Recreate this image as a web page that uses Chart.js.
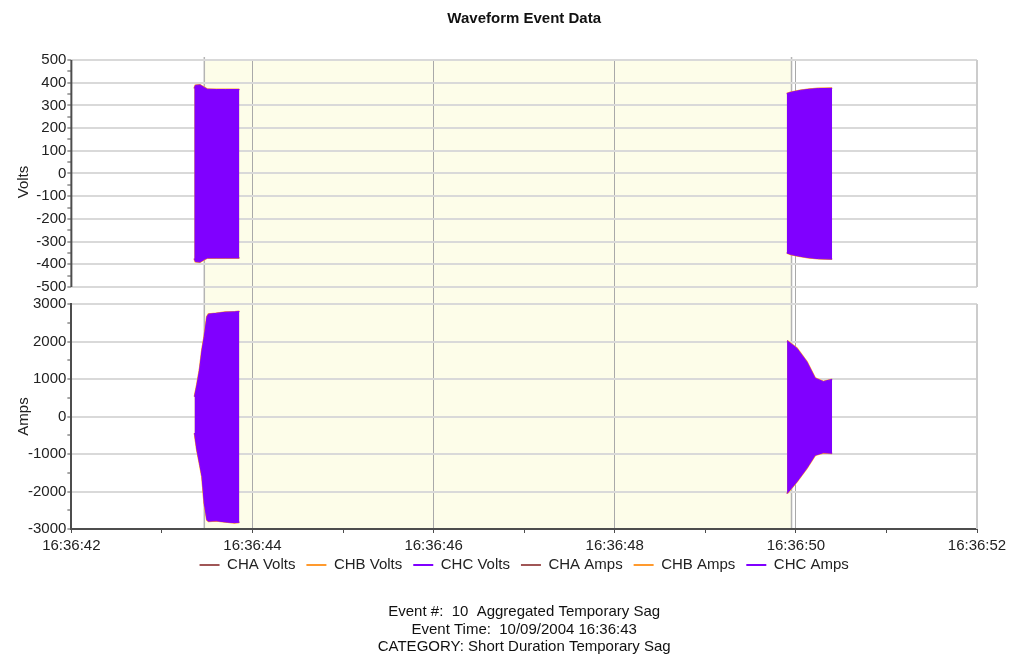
<!DOCTYPE html>
<html>
<head>
<meta charset="utf-8">
<script src="https://cdn.jsdelivr.net/npm/chart.js@4"></script>
<style>
  body { margin: 0; background: #fff; }
  #wrap { width: 1010px; height: 656px; }
</style>
</head>
<body>
<div id="wrap"><canvas id="chart"></canvas></div>
<script>
// seconds after 16:36:42
const tickLabels = ["16:36:42", "16:36:44", "16:36:46", "16:36:48", "16:36:50", "16:36:52"];
const eventStart = 1.468;
const eventEnd = 7.952;

// envelope of the voltage bursts (peak / trough)
const voltT1 = [1.358, 1.37, 1.42, 1.47, 1.50, 1.60, 1.70, 1.854];
const voltHi1 = [375, 388, 390, 378, 371, 370, 370, 370];
const voltLo1 = [-375, -388, -390, -378, -372, -372, -372, -372];
const voltT2 = [7.90, 7.95, 8.05, 8.15, 8.25, 8.40];
const voltHi2 = [352, 358, 366, 371, 374, 375];
const voltLo2 = [-350, -357, -365, -371, -375, -377];

// envelope of the current bursts
const ampT1 = [1.361, 1.387, 1.416, 1.443, 1.468, 1.498, 1.515, 1.60, 1.70, 1.80, 1.854];
const ampHi1 = [530, 840, 1240, 1770, 2130, 2660, 2730, 2750, 2780, 2790, 2800];
const ampLo1 = [-440, -890, -1250, -1600, -2310, -2760, -2790, -2780, -2810, -2830, -2820];
const ampT2 = [7.903, 8.010, 8.120, 8.212, 8.303, 8.400];
const ampHi2 = [2020, 1820, 1460, 1020, 930, 990];
const ampLo2 = [-2050, -1740, -1380, -1030, -965, -980];

const channels = ["CHA", "CHB", "CHC"];
const colors = { CHA: "#a05656", CHB: "#ff9a2e", CHC: "#8000ff" };
const drawOrder = { CHA: 2, CHB: 1, CHC: 0 };

function pts(t1, v1, t2, v2) {
  const a = t1.map((t, i) => ({ x: t, y: v1[i] }));
  const b = t2.map((t, i) => ({ x: t, y: v2[i] }));
  // null point breaks the line between the two bursts
  return a.concat([{ x: (t1[t1.length - 1] + t2[0]) / 2, y: null }], b);
}

function bandSets(unit, axis, hi, lo) {
  const out = [];
  channels.forEach(ch => {
    const base = {
      borderColor: colors[ch],
      backgroundColor: colors[ch],
      borderWidth: ch === "CHB" ? 2 : 1,
      pointRadius: 0,
      yAxisID: axis,
      order: drawOrder[ch],
      spanGaps: false
    };
    out.push({ ...base, label: ch + " " + unit, data: hi, fill: "+1" });
    out.push({ ...base, label: ch + " " + unit, data: lo, fill: false, lower: true });
  });
  return out;
}

const datasets = [
  ...bandSets("Volts", "yV", pts(voltT1, voltHi1, voltT2, voltHi2), pts(voltT1, voltLo1, voltT2, voltLo2)),
  ...bandSets("Amps", "yA", pts(ampT1, ampHi1, ampT2, ampHi2), pts(ampT1, ampLo1, ampT2, ampLo2))
];

const axisColor = "#4d4d4d";
const gridColor = "#d9d9d9";

const eventBand = {
  id: "eventBand",
  afterLayout(chart) {
    // pull the legend up closer to the time labels
    chart.legend.top -= 12.5;
    chart.legend.bottom -= 12.5;
  },
  beforeDraw(chart) {
    const { ctx, chartArea } = chart;
    const x = chart.scales.x;
    const x0 = x.getPixelForValue(eventStart);
    const x1 = x.getPixelForValue(eventEnd);
    ctx.save();
    ctx.fillStyle = "#fdfde9";
    ctx.fillRect(x0, chartArea.top, x1 - x0, chartArea.bottom - chartArea.top);
    ctx.strokeStyle = "#b4b4b4";
    ctx.lineWidth = 1.5;
    ctx.beginPath();
    [x0, x1].forEach(px => {
      ctx.moveTo(px, chartArea.top - 3);
      ctx.lineTo(px, chartArea.bottom);
    });
    ctx.stroke();
    ctx.restore();
  },
  beforeDatasetsDraw(chart) {
    const { ctx, chartArea } = chart;
    const yV = chart.scales.yV;
    const yA = chart.scales.yA;
    ctx.save();
    // right borders of both panels
    ctx.strokeStyle = "#cccccc";
    ctx.lineWidth = 2;
    ctx.beginPath();
    ctx.moveTo(chartArea.right, yV.getPixelForValue(500));
    ctx.lineTo(chartArea.right, yV.getPixelForValue(-500));
    ctx.moveTo(chartArea.right, yA.getPixelForValue(3000));
    ctx.lineTo(chartArea.right, yA.getPixelForValue(-3000));
    ctx.stroke();
    // left axis line of the volts panel
    ctx.strokeStyle = axisColor;
    ctx.beginPath();
    ctx.moveTo(chartArea.left, yV.getPixelForValue(500));
    ctx.lineTo(chartArea.left, yV.getPixelForValue(-500));
    ctx.stroke();
    ctx.restore();
  }
};

Chart.defaults.font.family = 'Arial, "Liberation Sans", sans-serif';
Chart.defaults.color = "#222";

const ctx = document.getElementById("chart");
new Chart(ctx, {
  type: "line",
  data: { datasets: datasets },
  plugins: [eventBand],
  options: {
    responsive: true,
    maintainAspectRatio: false,
    animation: false,
    layout: { padding: { left: 0, right: 33, top: 0, bottom: 0 } },
    plugins: {
      tooltip: { enabled: false },
      title: {
        display: true,
        text: "Waveform Event Data",
        fullSize: false,
        color: "#111",
        font: { size: 15, weight: "bold", lineHeight: 1.2 },
        padding: { top: 9.5, bottom: 32.5 }
      },
      subtitle: {
        display: true,
        position: "bottom",
        fullSize: false,
        color: "#111",
        text: [
          "Event #:  10  Aggregated Temporary Sag",
          "Event Time:  10/09/2004 16:36:43",
          "CATEGORY: Short Duration Temporary Sag"
        ],
        font: { size: 15, lineHeight: 1.17 },
        padding: { top: 8.15, bottom: 0.2 }
      },
      legend: {
        position: "bottom",
        fullSize: false,
        labels: {
          usePointStyle: true,
          pointStyle: "line",
          pointStyleWidth: 20,
          padding: 11,
          color: "#222",
          font: { size: 15 },
          generateLabels(chart) {
            const items = Chart.defaults.plugins.legend.labels.generateLabels(chart);
            items.forEach(it => { it.lineWidth = 2; });
            return items;
          },
          filter: (item, data) => !data.datasets[item.datasetIndex].lower,
          sort: (a, b) => a.datasetIndex - b.datasetIndex
        }
      }
    },
    scales: {
      x: {
        type: "linear",
        min: 0,
        max: 10,
        afterFit: s => { s.paddingLeft = 0; s.paddingRight = 0; },
        border: { color: axisColor, width: 2 },
        grid: {
          color: c => (c.tick && c.tick.value % 2 === 0 && c.tick.value > 0 && c.tick.value < 10) ? "#a9a9a9" : "rgba(0,0,0,0)",
          tickColor: axisColor,
          tickLength: 4,
          lineWidth: 1
        },
        ticks: {
          stepSize: 1,
          autoSkip: false,
          maxRotation: 0,
          padding: 5.5,
          font: { size: 15, lineHeight: 1 },
          callback: v => (v % 2 === 0 ? tickLabels[v / 2] : "")
        }
      },
      yA: {
        type: "linear",
        position: "left",
        stack: "panels",
        stackWeight: 225,
        min: -3000,
        max: 3000,
        border: { color: axisColor, width: 2 },
        grid: {
          color: c => (c.tick && c.tick.value % 1000 === 0) ? gridColor : "rgba(0,0,0,0)",
          lineWidth: 2,
          tickColor: axisColor,
          tickLength: 4,
          tickWidth: 1
        },
        title: { display: true, text: "Amps", font: { size: 15, lineHeight: 0.6 }, padding: { top: 19.5, bottom: -1.5 } },
        ticks: {
          stepSize: 500,
          autoSkip: false,
          padding: 1,
          font: { size: 15 },
          callback: v => (v % 1000 === 0 ? String(v) : "")
        }
      },
      yV: {
        type: "linear",
        position: "left",
        stack: "panels",
        stackWeight: 244,
        min: -575,
        max: 500,
        border: { display: false },
        afterBuildTicks: s => { s.ticks = s.ticks.filter(t => t.value >= -500); },
        grid: {
          color: c => (c.tick && c.tick.value % 100 === 0) ? gridColor : "rgba(0,0,0,0)",
          lineWidth: 2,
          tickColor: axisColor,
          tickLength: 4,
          tickWidth: 1
        },
        title: { display: true, text: "Volts", font: { size: 15, lineHeight: 0.6 }, padding: { top: 19.5, bottom: -1.5 } },
        ticks: {
          stepSize: 50,
          autoSkip: false,
          padding: 1,
          font: { size: 15 },
          callback: v => (v % 100 === 0 ? String(v) : "")
        }
      }
    }
  }
});
</script>
</body>
</html>
